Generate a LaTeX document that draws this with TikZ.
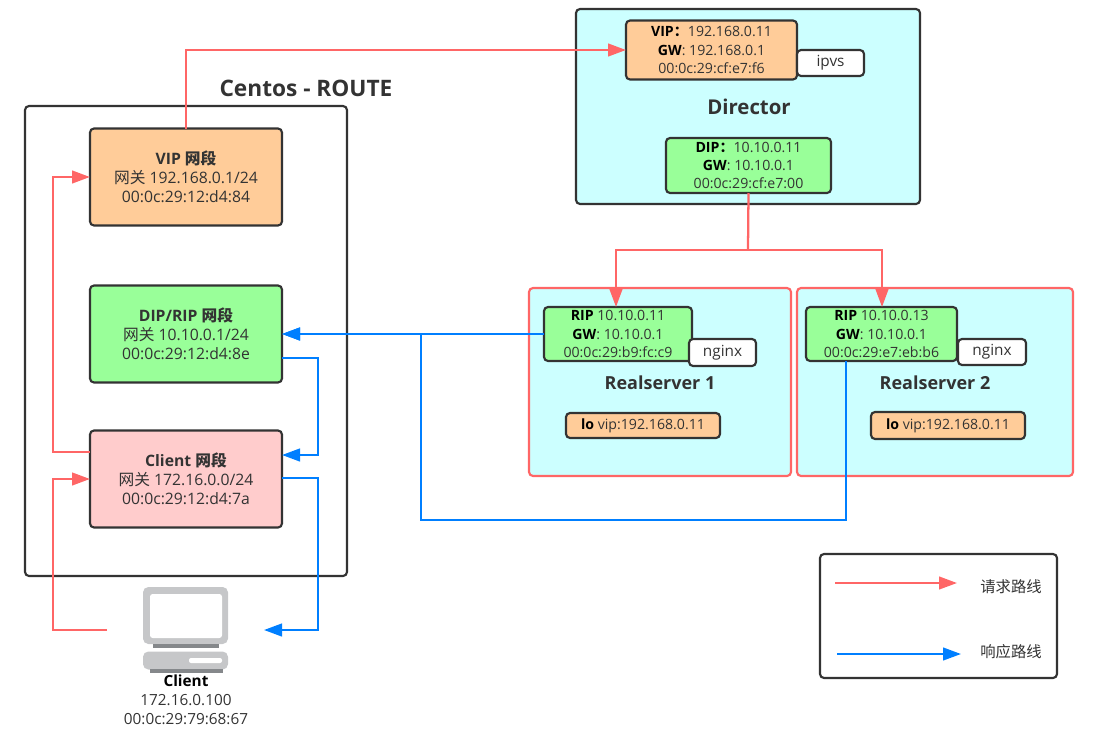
\documentclass[tikz,border=0pt]{standalone}
\usepackage{fontspec}
\setmainfont{Open Sans}
\newfontfamily\cjk{Noto Sans CJK SC}
\usetikzlibrary{arrows.meta}
\definecolor{reqred}{HTML}{FF6666}
\definecolor{respblue}{HTML}{007FFF}
\definecolor{edgegray}{HTML}{333333}
\definecolor{vipfill}{HTML}{FFCC99}
\definecolor{dipfill}{HTML}{99FF99}
\definecolor{clientfill}{HTML}{FFCCCC}
\definecolor{hostfill}{HTML}{CCFFFF}
\definecolor{icongray}{HTML}{C6C7C9}
\definecolor{icondark}{HTML}{85888B}
\tikzset{
  panel/.style={draw=edgegray, line width=1.6pt, rounded corners=3pt, inner sep=0pt, outer sep=0pt, text=edgegray, font=\fontsize{10.6}{13.6}\selectfont, align=center},
  routebox/.style={panel, minimum width=144pt, minimum height=72.75pt, font=\fontsize{11.8}{14.25}\selectfont},
  hostbox/.style={panel, draw=reqred, fill=hostfill},
  title/.style={text=edgegray, font=\fontsize{13.5}{15}\selectfont\bfseries, inner sep=0pt},
  reqline/.style={draw=reqred, line width=1.7pt, -{Triangle[length=13.5pt,width=9.5pt]}},
  respline/.style={draw=respblue, line width=1.7pt, -{Triangle[length=13.5pt,width=9.5pt]}},
  plain/.style={text=edgegray, font=\fontsize{11.5}{14.2}\selectfont, align=center, inner sep=0pt}
}
\begin{document}
\begin{tikzpicture}[x=0.75pt,y=-0.75pt]
\useasboundingbox (0,0) rectangle (1117,732);
% router
\node[panel, minimum width=241.5pt, minimum height=352.5pt] (route) at (186,341) {};
\node[title, font=\fontsize{17}{19}\selectfont\bfseries] (routetitle) at (306,88) {Centos - ROUTE};
\node[routebox, fill=vipfill] (vipr) at (186,177) {\textbf{VIP {\cjk 网段}}\\{\cjk 网关} 192.168.0.1/24\\00:0c:29:12:d4:84};
\node[routebox, fill=dipfill] (dipr) at (186,334) {\textbf{DIP/RIP {\cjk 网段}}\\{\cjk 网关} 10.10.0.1/24\\00:0c:29:12:d4:8e};
\node[routebox, fill=clientfill] (clientr) at (186,479) {\textbf{Client {\cjk 网段}}\\{\cjk 网关} 172.16.0.0/24\\00:0c:29:12:d4:7a};
% director
\node[panel, fill=hostfill, minimum width=258pt, minimum height=146.25pt] (director) at (748,106.5) {};
\node[panel, fill=vipfill, minimum width=128.25pt, minimum height=44.25pt] (vipd) at (711.5,50) {\textbf{\color{black}VIP{\cjk ：}}192.168.0.11\\\textbf{\color{black}GW}: 192.168.0.1\\00:0c:29:cf:e7:f6};
\node[panel, fill=white, minimum width=50.25pt, minimum height=19.5pt, font=\fontsize{11.5}{14}\selectfont] (ipvs) at (830.5,63) {ipvs};
\node[title, font=\fontsize{15.3}{18}\selectfont\bfseries] (directortitle) at (749,107) {Director};
\node[panel, fill=dipfill, minimum width=123.75pt, minimum height=41.25pt] (dipd) at (748.5,165.5) {\textbf{\color{black}DIP{\cjk ：}}10.10.0.11\\\textbf{\color{black}GW}: 10.10.0.1\\00:0c:29:cf:e7:00};
% realservers
\node[hostbox, minimum width=196.5pt, minimum height=141pt] (rs1) at (660,382) {};
\node[panel, fill=dipfill, minimum width=111pt, minimum height=40.5pt] (rip1) at (618,334) {\textbf{\color{black}RIP} 10.10.0.11\\\textbf{\color{black}GW}: 10.10.0.1\\00:0c:29:b9:fc:c9};
\node[panel, fill=white, minimum width=50.25pt, minimum height=20.25pt, font=\fontsize{11.5}{14}\selectfont] (nginx1) at (722.5,352.5) {nginx};
\node[title] (rs1title) at (660,383) {Realserver 1};
\node[panel, fill=vipfill, minimum width=115.5pt, minimum height=18.75pt] (lo1) at (643,425.5) {\textbf{\color{black}lo} vip:192.168.0.11};
\node[hostbox, minimum width=207pt, minimum height=141pt] (rs2) at (935,382) {};
\node[panel, fill=dipfill, minimum width=113.25pt, minimum height=40.5pt] (rip2) at (881.5,334) {\textbf{\color{black}RIP} 10.10.0.13\\\textbf{\color{black}GW}: 10.10.0.1\\00:0c:29:e7:eb:b6};
\node[panel, fill=white, minimum width=51pt, minimum height=19.5pt, font=\fontsize{11.5}{14}\selectfont] (nginx2) at (992,352) {nginx};
\node[title] (rs2title) at (935,383) {Realserver 2};
\node[panel, fill=vipfill, minimum width=115.5pt, minimum height=20.25pt] (lo2) at (948,425.5) {\textbf{\color{black}lo} vip:192.168.0.11};
% client icon
\node[draw=none, fill=icongray, rounded corners=4pt, minimum width=63.75pt, minimum height=42.75pt, inner sep=0pt] (monitor) at (185.5,615.5) {};
\node[fill=white, rounded corners=2pt, minimum width=54pt, minimum height=33pt, inner sep=0pt] (screen) at (186,616) {};
\node[fill=icondark, minimum width=49.5pt, minimum height=3pt, inner sep=0pt] (neck) at (186,646) {};
\node[fill=icongray, rounded corners=4pt, minimum width=63.75pt, minimum height=13.5pt, inner sep=0pt] (base) at (185.5,660.5) {};
\node[fill=white, rounded corners=1.5pt, minimum width=24.75pt, minimum height=3.75pt, inner sep=0pt] (slot) at (205.5,660.5) {};
\node[fill=icondark, minimum width=54.75pt, minimum height=3pt, inner sep=0pt] (foot) at (186,671) {};
\node[plain, text=black] (clientname) at (186,681) {\textbf{Client}};
\node[plain] (clientinfo) at (186,709.5) {172.16.0.100\\00:0c:29:79:68:67};
\coordinate (iconleft) at (107,630);
\coordinate (iconright) at (264,630);
% legend
\node[panel, minimum width=177.75pt, minimum height=93pt] (legend) at (938.5,616) {};
\coordinate (reqstart) at (835,583);
\coordinate (reqend) at (957,583);
\coordinate (respstart) at (837,654);
\coordinate (respend) at (961,654);
\node[plain] (reqtext) at (1011,587) {\cjk 请求路线};
\node[plain] (resptext) at (1011,652) {\cjk 响应路线};
% request path
\coordinate (clientup) at (90,452);
\coordinate (rsfork) at (748,250);
\draw[reqline] (vipr.north) |- (vipd.west);
\draw[reqline] (clientup) -- ++(-37,0) |- (vipr.west);
\draw[reqline] (iconleft) -- ++(-54,0) |- (clientr.west);
\draw[draw=reqred, line width=1.7pt] (dipd.south) -- (rsfork);
\draw[reqline] (rsfork) -| (616,307);
\draw[reqline] (rsfork) -| (882,307);
\draw[reqline] (reqstart) -- (reqend);
% response path
\coordinate (dipout) at (282,358);
\coordinate (clientin) at (282,455);
\coordinate (clientout) at (282,478);
\coordinate (rip2out) at (846,361);
\coordinate (bluecorner) at (421,520);
\draw[respline] (dipout) -- ++(36,0) |- (clientin);
\draw[respline] (clientout) -- ++(36,0) |- (iconright);
\draw[respline] (rip1.west) -- (dipr.east);
\draw[respline] (rip2out) |- (bluecorner) |- (dipr.east);
\draw[respline] (respstart) -- (respend);
\end{tikzpicture}
\end{document}
